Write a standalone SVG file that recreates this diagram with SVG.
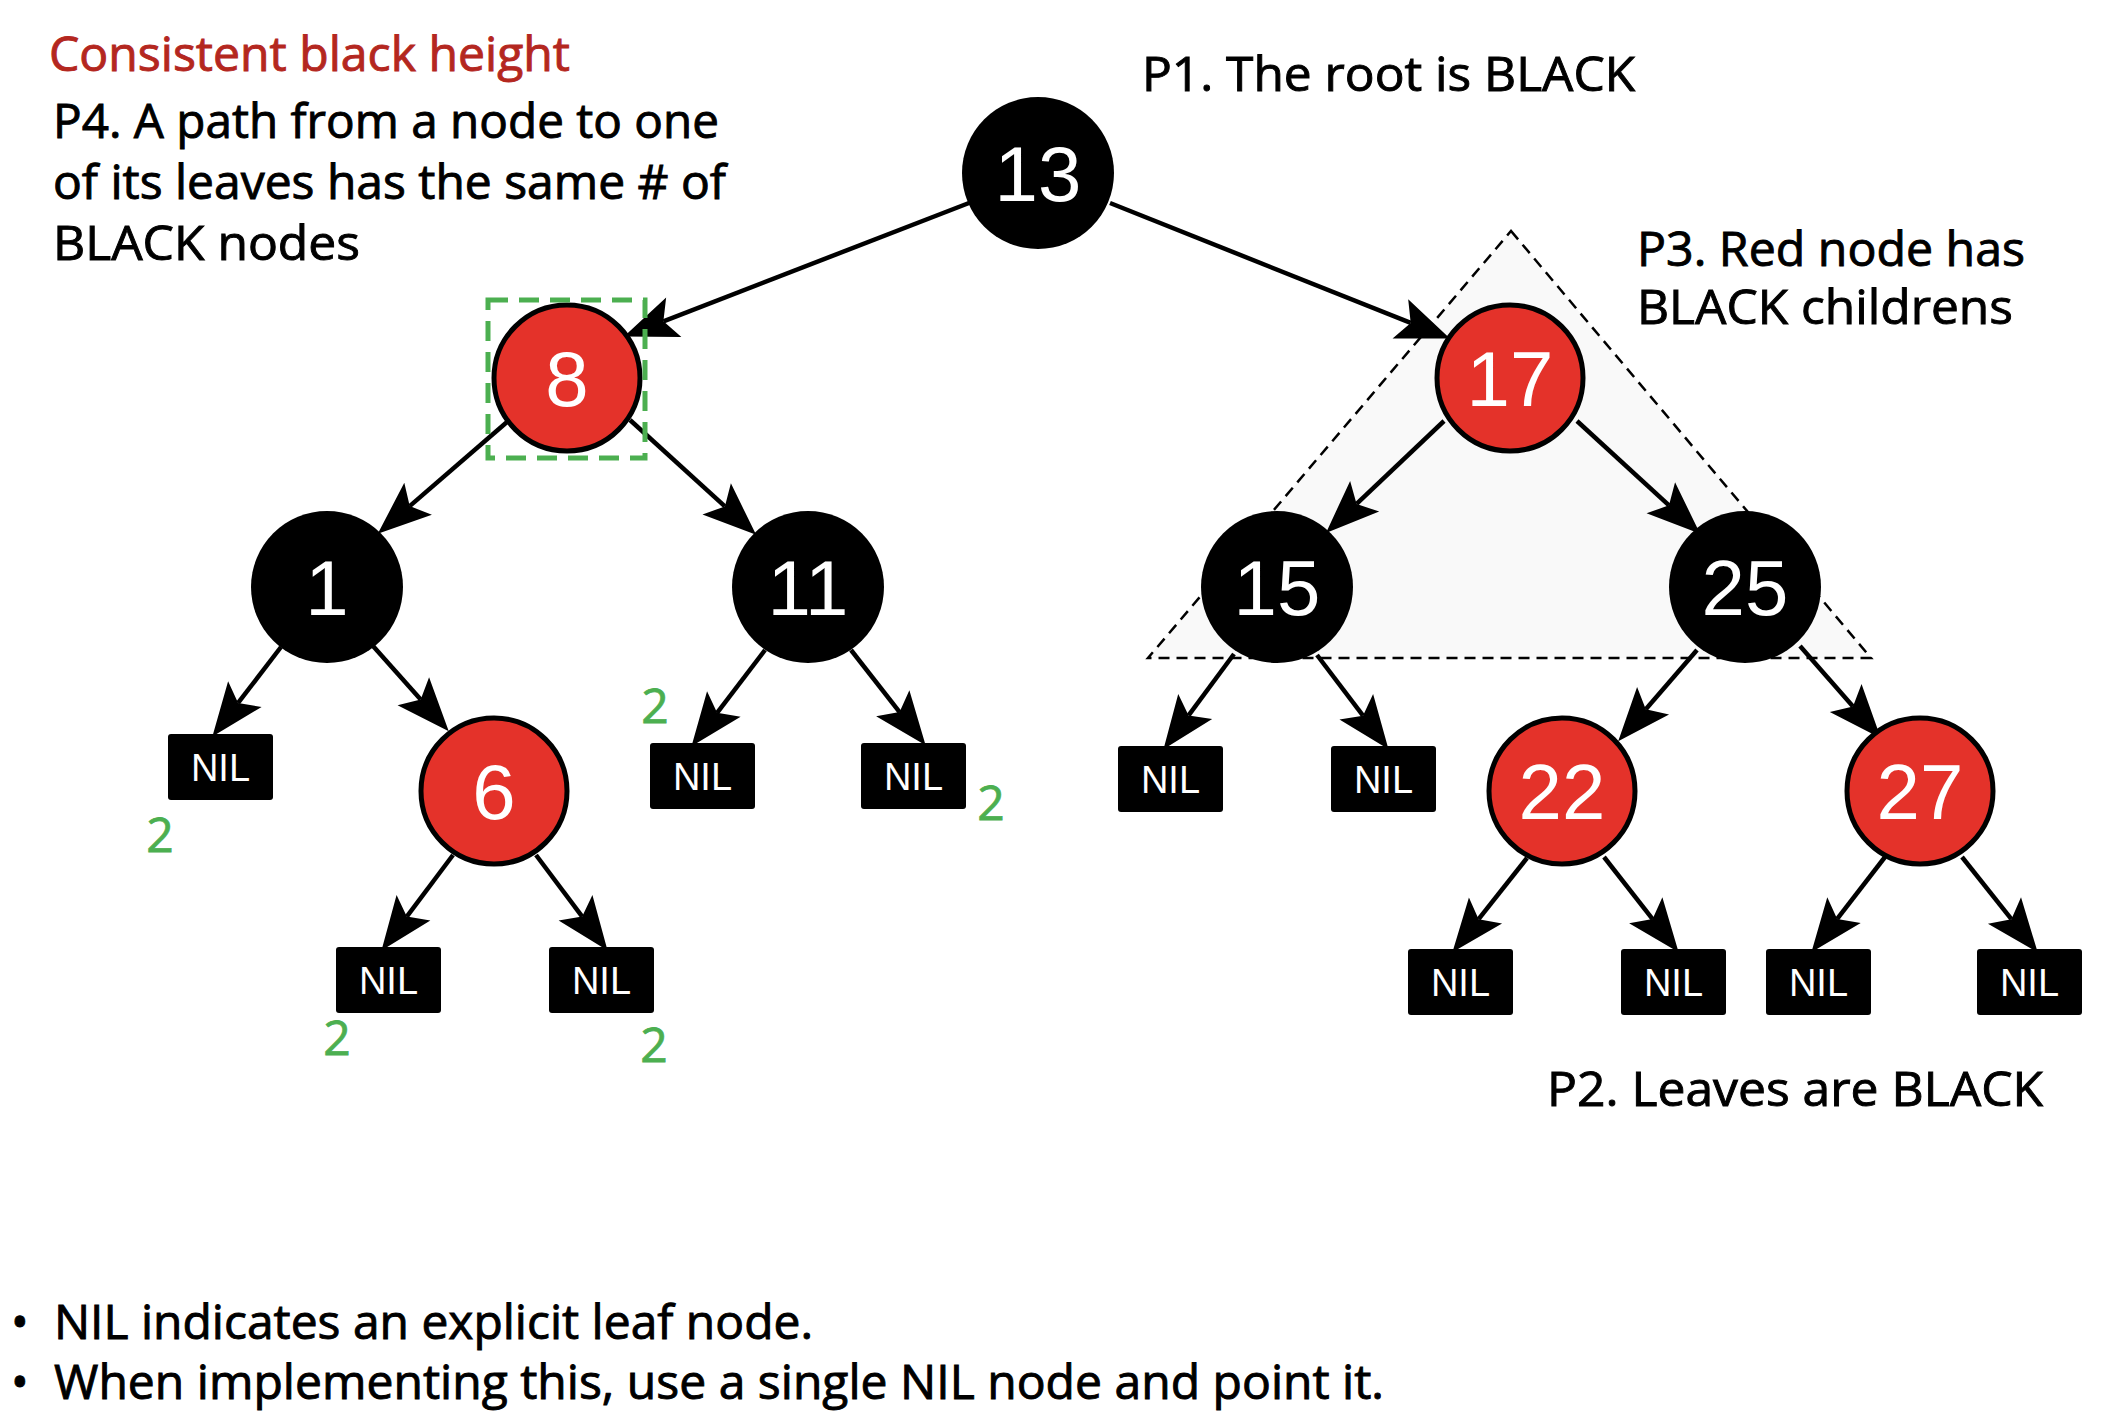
<svg xmlns="http://www.w3.org/2000/svg" width="2104" height="1412" viewBox="0 0 2104 1412">
<style>
.lbl{font-family:"Open Sans","Noto Sans",sans-serif;font-size:47px;font-weight:500;fill:#000;stroke:#000;stroke-width:0.9}
.title{font-family:"Open Sans","Noto Sans",sans-serif;font-size:47px;font-weight:500;fill:#b4271f;stroke:#b4271f;stroke-width:0.9}
.cnt{font-family:"Open Sans","Noto Sans",sans-serif;font-size:48px;fill:#4caf50;stroke:#4caf50;stroke-width:0.8;text-anchor:middle}
.blk{fill:#000}
.red{fill:#e4322a;stroke:#000;stroke-width:5}
.num{font-family:"Liberation Sans",Arial,sans-serif;font-size:78px;fill:#fff;text-anchor:middle}
.nilbox{fill:#000}
.nil{font-family:"Liberation Sans",Arial,sans-serif;font-size:38px;fill:#fff;text-anchor:middle}
.edge{stroke:#000;stroke-width:4.5;fill:none}
</style>
<defs>
<marker id="arr" markerUnits="userSpaceOnUse" markerWidth="60" markerHeight="50" viewBox="-2 -22 54 44" refX="10" refY="0" orient="auto">
<path d="M0,-19 L48,0 L0,19 L10,0 Z" fill="#000"/>
</marker>
</defs>
<rect width="2104" height="1412" fill="#fff"/>

<g id="subtree-highlight">
<polygon points="1511,231 1871,658 1148,658" fill="#f9f9f9" stroke="#000" stroke-width="2.5" stroke-dasharray="11,7"/>
</g>

<g id="connectors">
<line class="edge" x1="969" y1="203" x2="663.4" y2="321.3" marker-end="url(#arr)"/>
<line class="edge" x1="1110" y1="203" x2="1410.7" y2="322.9" marker-end="url(#arr)"/>
<line class="edge" x1="507" y1="422" x2="409.7" y2="506.1" marker-end="url(#arr)"/>
<line class="edge" x1="630" y1="420" x2="724.9" y2="506.4" marker-end="url(#arr)"/>
<line class="edge" x1="281" y1="647" x2="238.1" y2="702.9" marker-end="url(#arr)"/>
<line class="edge" x1="373" y1="646" x2="420.7" y2="699.6" marker-end="url(#arr)"/>
<line class="edge" x1="765" y1="650" x2="717.1" y2="712.8" marker-end="url(#arr)"/>
<line class="edge" x1="851" y1="650" x2="899.6" y2="712.1" marker-end="url(#arr)"/>
<line class="edge" x1="1444" y1="421" x2="1356.6" y2="503.9" marker-end="url(#arr)"/>
<line class="edge" x1="1577" y1="421" x2="1669" y2="505.3" marker-end="url(#arr)"/>
<line class="edge" x1="1234" y1="654" x2="1188.6" y2="715.4" marker-end="url(#arr)"/>
<line class="edge" x1="1317" y1="655" x2="1363" y2="715.7" marker-end="url(#arr)"/>
<line class="edge" x1="1697" y1="650" x2="1645.8" y2="709.2" marker-end="url(#arr)"/>
<line class="edge" x1="1800" y1="646" x2="1853" y2="706.4" marker-end="url(#arr)"/>
<line class="edge" x1="453" y1="855" x2="406.8" y2="916.6" marker-end="url(#arr)"/>
<line class="edge" x1="536" y1="855" x2="582.2" y2="916.6" marker-end="url(#arr)"/>
<line class="edge" x1="1527" y1="858" x2="1478.6" y2="919.2" marker-end="url(#arr)"/>
<line class="edge" x1="1604" y1="857" x2="1652.6" y2="919.1" marker-end="url(#arr)"/>
<line class="edge" x1="1885" y1="857" x2="1837.2" y2="918.9" marker-end="url(#arr)"/>
<line class="edge" x1="1962" y1="857" x2="2011.4" y2="919.2" marker-end="url(#arr)"/>
</g>

<g id="n13"><circle class="blk" cx="1038" cy="173" r="76"/><text class="num" x="1038" y="201">13</text></g>
<g id="n8"><circle class="red" cx="567" cy="378" r="73"/><text class="num" x="567" y="406">8</text></g>
<g id="n17"><circle class="red" cx="1510" cy="378" r="73"/><text class="num" x="1510" y="406">17</text></g>
<g id="n1"><circle class="blk" cx="327" cy="587" r="76"/><text class="num" x="327" y="615">1</text></g>
<g id="n11"><circle class="blk" cx="808" cy="587" r="76"/><text class="num" x="808" y="615">11</text></g>
<g id="n15"><circle class="blk" cx="1277" cy="587" r="76"/><text class="num" x="1277" y="615">15</text></g>
<g id="n25"><circle class="blk" cx="1745" cy="587" r="76"/><text class="num" x="1745" y="615">25</text></g>
<g id="n6"><circle class="red" cx="494" cy="791" r="73"/><text class="num" x="494" y="819">6</text></g>
<g id="n22"><circle class="red" cx="1562" cy="791" r="73"/><text class="num" x="1562" y="819">22</text></g>
<g id="n27"><circle class="red" cx="1920" cy="791" r="73"/><text class="num" x="1920" y="819">27</text></g>

<g id="nil1"><rect class="nilbox" x="168" y="734" width="105" height="66" rx="3"/><text class="nil" x="220.5" y="781">NIL</text></g>
<g id="nil2"><rect class="nilbox" x="650" y="743" width="105" height="66" rx="3"/><text class="nil" x="702.5" y="790">NIL</text></g>
<g id="nil3"><rect class="nilbox" x="861" y="743" width="105" height="66" rx="3"/><text class="nil" x="913.5" y="790">NIL</text></g>
<g id="nil4"><rect class="nilbox" x="1118" y="746" width="105" height="66" rx="3"/><text class="nil" x="1170.5" y="793">NIL</text></g>
<g id="nil5"><rect class="nilbox" x="1331" y="746" width="105" height="66" rx="3"/><text class="nil" x="1383.5" y="793">NIL</text></g>
<g id="nil6"><rect class="nilbox" x="336" y="947" width="105" height="66" rx="3"/><text class="nil" x="388.5" y="994">NIL</text></g>
<g id="nil7"><rect class="nilbox" x="549" y="947" width="105" height="66" rx="3"/><text class="nil" x="601.5" y="994">NIL</text></g>
<g id="nil8"><rect class="nilbox" x="1408" y="949" width="105" height="66" rx="3"/><text class="nil" x="1460.5" y="996">NIL</text></g>
<g id="nil9"><rect class="nilbox" x="1621" y="949" width="105" height="66" rx="3"/><text class="nil" x="1673.5" y="996">NIL</text></g>
<g id="nil10"><rect class="nilbox" x="1766" y="949" width="105" height="66" rx="3"/><text class="nil" x="1818.5" y="996">NIL</text></g>
<g id="nil11"><rect class="nilbox" x="1977" y="949" width="105" height="66" rx="3"/><text class="nil" x="2029.5" y="996">NIL</text></g>

<g id="highlight-8">
<rect x="488" y="300" width="157" height="158" fill="none" stroke="#4caf50" stroke-width="5" stroke-dasharray="20,11"/>
</g>

<g id="counts">
<text class="cnt" x="160" y="852">2</text>
<text class="cnt" x="655" y="723">2</text>
<text class="cnt" x="991" y="820">2</text>
<text class="cnt" x="337" y="1055">2</text>
<text class="cnt" x="654" y="1062">2</text>
</g>

<g id="labels">
<text class="title" x="49" y="71" textLength="521" lengthAdjust="spacingAndGlyphs">Consistent black height</text>
<text class="lbl" x="53" y="138" textLength="666" lengthAdjust="spacingAndGlyphs">P4. A path from a node to one</text>
<text class="lbl" x="53" y="199" textLength="673" lengthAdjust="spacingAndGlyphs">of its leaves has the same # of</text>
<text class="lbl" x="53" y="260" textLength="307" lengthAdjust="spacingAndGlyphs">BLACK nodes</text>
<text class="lbl" x="1142" y="91" textLength="493" lengthAdjust="spacingAndGlyphs">P1. The root is BLACK</text>
<text class="lbl" x="1637" y="266" textLength="388" lengthAdjust="spacingAndGlyphs">P3. Red node has</text>
<text class="lbl" x="1637" y="324" textLength="376" lengthAdjust="spacingAndGlyphs">BLACK childrens</text>
<text class="lbl" x="1547" y="1106" textLength="496" lengthAdjust="spacingAndGlyphs">P2. Leaves are BLACK</text>
<text class="lbl" x="11" y="1339">•</text>
<text class="lbl" x="54" y="1339" textLength="759" lengthAdjust="spacingAndGlyphs">NIL indicates an explicit leaf node.</text>
<text class="lbl" x="11" y="1399">•</text>
<text class="lbl" x="54" y="1399" textLength="1330" lengthAdjust="spacingAndGlyphs">When implementing this, use a single NIL node and point it.</text>
</g>
</svg>
